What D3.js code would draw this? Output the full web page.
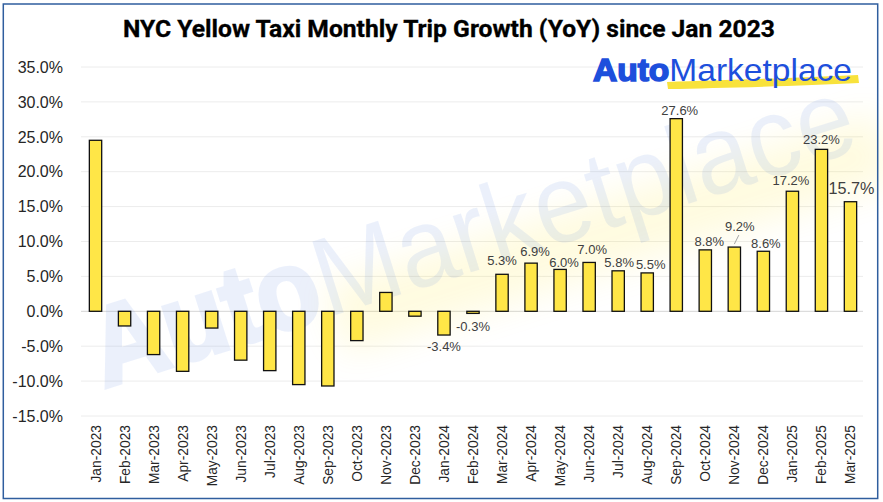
<!DOCTYPE html>
<html>
<head>
<meta charset="utf-8">
<script src="https://cdn.jsdelivr.net/npm/d3@7"></script>
<style>
  body { margin: 0; background: #fff; }
  svg { display: block; }
</style>
</head>
<body>
<div id="container"></div>
<script>
// data
const months = ["Jan-2023", "Feb-2023", "Mar-2023", "Apr-2023", "May-2023", "Jun-2023", "Jul-2023", "Aug-2023", "Sep-2023", "Oct-2023", "Nov-2023", "Dec-2023",
    "Jan-2024", "Feb-2024", "Mar-2024", "Apr-2024", "May-2024", "Jun-2024", "Jul-2024", "Aug-2024", "Sep-2024", "Oct-2024", "Nov-2024", "Dec-2024",
    "Jan-2025", "Feb-2025", "Mar-2025"]
const growth = [24.5, -2.1, -6.2, -8.6, -2.4, -7.0, -8.5, -10.5, -10.7, -4.2, 2.7, -0.7,
    -3.4, -0.3, 5.3, 6.9, 6.0, 7.0, 5.8, 5.5, 27.6, 8.8, 9.2, 8.6,
    17.2, 23.2, 15.7]
const yTicks = [-15, -10, -5, 0, 5, 10, 15, 20, 25, 30, 35]
const firstLabelled = "Jan-2024"
const title = "NYC Yellow Taxi Monthly Trip Growth (YoY) since Jan 2023"

// small nudges so labels sit where Excel put them
const labelNudge = {
    "Apr-2024": [4, -1], "May-2024": [4, 4], "Jun-2024": [3, -2], "Jul-2024": [1, 2.5],
    "Aug-2024": [3.5, 2], "Sep-2024": [3.5, 2.5], "Oct-2024": [4, 2], "Nov-2024": [5.5, -10],
    "Dec-2024": [2.5, 3], "Jan-2025": [-1.5, 0], "Feb-2025": [0, 1], "Mar-2025": [1, -3],
    "Mar-2024": [0, -3], "Jan-2024": [0, -1], "Feb-2024": [0, 1]
}

main()

function main() {
    const width = 883
    const height = 502
    const left = 81, right = 865, top = 67, bottom = 416

    const svg = d3.select("#container").append("svg")
        .attr("width", width)
        .attr("height", height)

    const defs = svg.append("defs")
    defs.append("filter").attr("id", "blur")
        .attr("x", "-20%").attr("y", "-60%").attr("width", "140%").attr("height", "220%")
        .append("feGaussianBlur").attr("stdDeviation", 18)

    const x = d3.scaleBand()
        .domain(months)
        .range([left, right])
        .paddingInner(0.575)
        .paddingOuter(0.2875)

    const y = d3.scaleLinear()
        .domain([-15, 35])
        .range([bottom, top])

    // gridlines
    svg.append("g")
        .selectAll("line")
        .data(yTicks)
        .join("line")
        .attr("x1", left)
        .attr("x2", right - 2)
        .attr("y1", d => y(d))
        .attr("y2", d => y(d))
        .attr("stroke", d => d === 0 ? "#d4d4d4" : "#ececec")
        .attr("stroke-width", 1)

    // faint watermark behind the bars
    const wm = svg.append("g")
        .attr("transform", "translate(104,388) rotate(-17.5)")
    wm.append("rect")
        .attr("x", 240).attr("y", -30).attr("width", 580).attr("height", 70)
        .attr("fill", "#ffe100")
        .attr("opacity", 0.12)
        .attr("filter", "url(#blur)")
    const wmText = wm.append("text")
        .attr("x", 0).attr("y", 0)
        .attr("font-family", "Liberation Sans, Arial, sans-serif")
        .attr("font-size", 112)
        .attr("fill", "#2a62dc")
        .attr("opacity", 0.085)
        .attr("textLength", 795)
        .attr("lengthAdjust", "spacingAndGlyphs")
    wmText.append("tspan").attr("font-weight", 700)
        .attr("stroke", "#2a62dc").attr("stroke-width", 4).text("Auto")
    wmText.append("tspan").text("Marketplace")

    // y axis labels
    svg.append("g")
        .selectAll("text")
        .data(yTicks)
        .join("text")
        .attr("x", 63)
        .attr("y", d => y(d))
        .attr("dy", "0.36em")
        .attr("text-anchor", "end")
        .attr("font-family", "Liberation Sans, Arial, sans-serif")
        .attr("font-size", 16)
        .attr("fill", "#262626")
        .text(d => d.toFixed(1) + "%")

    // x axis labels (rotated)
    svg.append("g")
        .selectAll("text")
        .data(months)
        .join("text")
        .attr("transform", d => `translate(${x(d) + x.bandwidth() / 2 + 5},425) rotate(-90)`)
        .attr("text-anchor", "end")
        .attr("font-family", "Liberation Sans, Arial, sans-serif")
        .attr("font-size", 13.8)
        .attr("fill", "#262626")
        .text(d => d)

    const rows = months.map((m, i) => ({ month: m, value: growth[i] }))

    // bars
    svg.append("g")
        .selectAll("rect")
        .data(rows)
        .join("rect")
        .attr("x", d => x(d.month))
        .attr("width", x.bandwidth())
        .attr("y", d => y(Math.max(0, d.value)))
        .attr("height", d => Math.abs(y(d.value) - y(0)))
        .attr("fill", "#ffe647")
        .attr("stroke", "#111")
        .attr("stroke-width", 1.3)

    // data labels from Jan-2024 on
    const start = months.indexOf(firstLabelled)
    const labelled = rows.slice(start)
    const lx = d => x(d.month) + x.bandwidth() / 2 + (labelNudge[d.month] || [0, 0])[0]
    const ly = d => (d.value >= 0 ? y(d.value) - 11 : y(d.value) + 12) + (labelNudge[d.month] || [0, 0])[1]

    svg.append("g")
        .selectAll("text")
        .data(labelled)
        .join("text")
        .attr("x", lx)
        .attr("y", ly)
        .attr("dy", "0.36em")
        .attr("text-anchor", "middle")
        .attr("font-family", "Liberation Sans, Arial, sans-serif")
        .attr("font-size", d => d.month === "Mar-2025" ? 16.2 : 13)
        .attr("fill", "#404040")
        .text(d => d.value.toFixed(1) + "%")

    // leader line for the lifted Nov-2024 label
    const nov = labelled.find(d => d.month === "Nov-2024")
    svg.append("line")
        .attr("x1", x(nov.month) + x.bandwidth() / 2)
        .attr("y1", y(nov.value) - 3)
        .attr("x2", lx(nov) - 1)
        .attr("y2", ly(nov) + 9)
        .attr("stroke", "#a6a6a6")
        .attr("stroke-width", 1)

    // title
    svg.append("text")
        .attr("x", 449)
        .attr("y", 37)
        .attr("text-anchor", "middle")
        .attr("font-family", "Roboto, sans-serif")
        .attr("font-weight", 700)
        .attr("font-size", 23)
        .attr("fill", "#000")
        .attr("stroke", "#000")
        .attr("stroke-width", 0.3)
        .attr("textLength", 652)
        .attr("lengthAdjust", "spacingAndGlyphs")
        .text(title)

    // logo top right
    const logo = svg.append("g")
    logo.append("path")
        .attr("d", "M667,82 C720,80 800,78 858,75 L859,83 C800,86 720,88 668,89 Z")
        .attr("fill", "#f8e23c")
    const logoText = logo.append("text")
        .attr("x", 593)
        .attr("y", 81)
        .attr("font-family", "Liberation Sans, Arial, sans-serif")
        .attr("font-size", 32)
        .attr("fill", "#1d4fdc")
        .attr("textLength", 259)
        .attr("lengthAdjust", "spacingAndGlyphs")
    logoText.append("tspan").attr("font-weight", 700)
        .attr("stroke", "#1d4fdc").attr("stroke-width", 1.6).text("Auto")
    logoText.append("tspan").text("Marketplace")

    // chart frame
    svg.append("rect")
        .attr("x", 3.3)
        .attr("y", 4)
        .attr("width", 874.4)
        .attr("height", 494.5)
        .attr("fill", "none")
        .attr("stroke", "#2f5e9e")
        .attr("stroke-width", 1.5)
}
</script>
</body>
</html>
